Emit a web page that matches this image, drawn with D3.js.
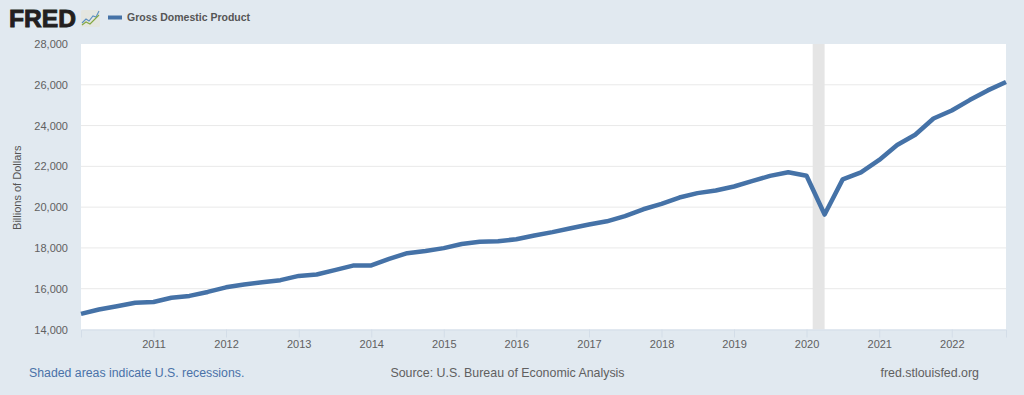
<!DOCTYPE html>
<html>
<head>
<meta charset="utf-8">
<script src="https://cdn.jsdelivr.net/npm/d3@7"></script>
<style>
  html, body { margin: 0; padding: 0; background: #e1e9f0; overflow: hidden; }
  svg { display: block; font-family: "Liberation Sans", Arial, sans-serif; }
</style>
</head>
<body>
<svg id="chart" width="1024" height="395"></svg>
<script>
const SERIES_NAME = "Gross Domestic Product";
const Y_LABEL = "Billions of Dollars";
const NOTE = "Shaded areas indicate U.S. recessions.";
const SOURCE = "Source: U.S. Bureau of Economic Analysis";
const SITE = "fred.stlouisfed.org";

const QUARTERS = [
  "2010-01-01", "2010-04-01", "2010-07-01", "2010-10-01",
  "2011-01-01", "2011-04-01", "2011-07-01", "2011-10-01",
  "2012-01-01", "2012-04-01", "2012-07-01", "2012-10-01",
  "2013-01-01", "2013-04-01", "2013-07-01", "2013-10-01",
  "2014-01-01", "2014-04-01", "2014-07-01", "2014-10-01",
  "2015-01-01", "2015-04-01", "2015-07-01", "2015-10-01",
  "2016-01-01", "2016-04-01", "2016-07-01", "2016-10-01",
  "2017-01-01", "2017-04-01", "2017-07-01", "2017-10-01",
  "2018-01-01", "2018-04-01", "2018-07-01", "2018-10-01",
  "2019-01-01", "2019-04-01", "2019-07-01", "2019-10-01",
  "2020-01-01", "2020-04-01", "2020-07-01", "2020-10-01",
  "2021-01-01", "2021-04-01", "2021-07-01", "2021-10-01",
  "2022-01-01", "2022-04-01", "2022-07-01", "2022-10-01"
];

const GDP = [
  14765, 14980, 15142, 15310,
  15351, 15558, 15648, 15842,
  16069, 16207, 16320, 16420,
  16629, 16700, 16911, 17133,
  17144, 17463, 17743, 17853,
  17991, 18194, 18307, 18332,
  18425, 18612, 18776, 18968,
  19148, 19305, 19562, 19895,
  20156, 20470, 20687, 20819,
  21013, 21272, 21532, 21707,
  21538, 19637, 21362, 21705,
  22314, 23047, 23550, 24349,
  24741, 25249, 25724, 26137
];

const Y_TICKS = [14000, 16000, 18000, 20000, 22000, 24000, 26000, 28000];
const X_TICK_YEARS = [2011, 2012, 2013, 2014, 2015, 2016, 2017, 2018, 2019, 2020, 2021, 2022];
const RECESSION = ["2020-02-01", "2020-04-01"];

const parseDate = d3.timeParse("%Y-%m-%d");

let margin = { top: 44, right: 18, bottom: 65.5, left: 81 },
    width  = 1024 - margin.left - margin.right,
    height = 395 - margin.top - margin.bottom;

const data = QUARTERS.map((q, i) => ({ date: parseDate(q), value: GDP[i] }));

let scaleTime = d3.scaleTime()
  .domain(d3.extent(data, (d) => d.date))
  .range([0, width]);

let scaleValue = d3.scaleLinear()
  .domain([14000, 28000])
  .range([height, 0]);

const svg = d3.select("#chart");

let chart = svg.append("g")
  .attr("transform", "translate(" + margin.left + "," + margin.top + ")");

chart.append("rect")
  .attr("width", width)
  .attr("height", height)
  .attr("fill", "#ffffff");

// gridlines
chart.append("g")
  .selectAll("line")
  .data(Y_TICKS.slice(1, -1))
  .join("line")
  .attr("x1", 0)
  .attr("x2", width)
  .attr("y1", (d) => scaleValue(d))
  .attr("y2", (d) => scaleValue(d))
  .attr("stroke", "#e9e9e9")
  .attr("stroke-width", 1);

// recession band
chart.append("rect")
  .attr("x", scaleTime(parseDate(RECESSION[0])))
  .attr("width", scaleTime(parseDate(RECESSION[1])) - scaleTime(parseDate(RECESSION[0])))
  .attr("y", 0)
  .attr("height", height)
  .attr("fill", "#e5e5e5");

// axes
let yAxis = d3.axisLeft(scaleValue)
  .tickValues(Y_TICKS)
  .tickSize(0)
  .tickPadding(13)
  .tickFormat(d3.format(","));

let xAxis = d3.axisBottom(scaleTime)
  .tickValues(X_TICK_YEARS.map((y) => new Date(y, 0, 1)))
  .tickSize(8)
  .tickPadding(3)
  .tickFormat(d3.timeFormat("%Y"));

let gy = chart.append("g").call(yAxis);
gy.select(".domain").remove();
gy.selectAll("text").attr("fill", "#606060").style("font-size", "11px");

let gx = chart.append("g")
  .attr("transform", "translate(0," + height + ")")
  .call(xAxis);
gx.select(".domain").attr("stroke", "#d3dde8");
gx.selectAll("line").attr("stroke", "#d3dde8");
gx.selectAll("text").attr("fill", "#606060").style("font-size", "11px");

// series line
let line = d3.line()
  .x((d) => scaleTime(d.date))
  .y((d) => scaleValue(d.value));

chart.append("path")
  .datum(data)
  .attr("d", line)
  .attr("fill", "none")
  .attr("stroke", "#4572a7")
  .attr("stroke-width", 4.5)
  .attr("stroke-linejoin", "round");

// y axis title
svg.append("text")
  .attr("transform", "translate(21," + (margin.top + height / 2 + 1) + ") rotate(-90)")
  .attr("text-anchor", "middle")
  .attr("fill", "#555")
  .style("font-size", "11px")
  .text(Y_LABEL);

// FRED logo
svg.append("text")
  .attr("x", 9)
  .attr("y", 27)
  .attr("fill", "#231f20")
  .style("font-size", "24px")
  .style("font-weight", "bold")
  .style("stroke", "#231f20")
  .style("stroke-width", "0.9px")
  .attr("textLength", 67)
  .attr("lengthAdjust", "spacingAndGlyphs")
  .text("FRED");

svg.append("rect")
  .attr("x", 81)
  .attr("y", 10)
  .attr("width", 19)
  .attr("height", 17)
  .attr("rx", 1.5)
  .attr("fill", "#e4e6e0");

svg.append("path")
  .attr("d", "M82,23 L86,19 L89,21 L93,16 L96,17 L99,11")
  .attr("fill", "none")
  .attr("stroke", "#5b8fc0")
  .attr("stroke-width", 1.1);

svg.append("path")
  .attr("d", "M82,25 L86,22 L90,24 L94,20 L99,15")
  .attr("fill", "none")
  .attr("stroke", "#84a842")
  .attr("stroke-width", 1.1);

// legend
svg.append("line")
  .attr("x1", 108)
  .attr("x2", 122)
  .attr("y1", 17.5)
  .attr("y2", 17.5)
  .attr("stroke", "#4572a7")
  .attr("stroke-width", 4);

svg.append("text")
  .attr("x", 127)
  .attr("y", 21)
  .attr("fill", "#555")
  .style("font-size", "10.5px")
  .style("font-weight", "bold")
  .text(SERIES_NAME);

// footer
svg.append("text")
  .attr("x", 29)
  .attr("y", 377)
  .attr("fill", "#4a72a8")
  .style("font-size", "12.3px")
  .text(NOTE);

svg.append("text")
  .attr("x", 507.5)
  .attr("y", 377)
  .attr("text-anchor", "middle")
  .attr("fill", "#606060")
  .style("font-size", "12.4px")
  .text(SOURCE);

svg.append("text")
  .attr("x", 979)
  .attr("y", 377)
  .attr("text-anchor", "end")
  .attr("fill", "#606060")
  .style("font-size", "12.4px")
  .text(SITE);
</script>
</body>
</html>
